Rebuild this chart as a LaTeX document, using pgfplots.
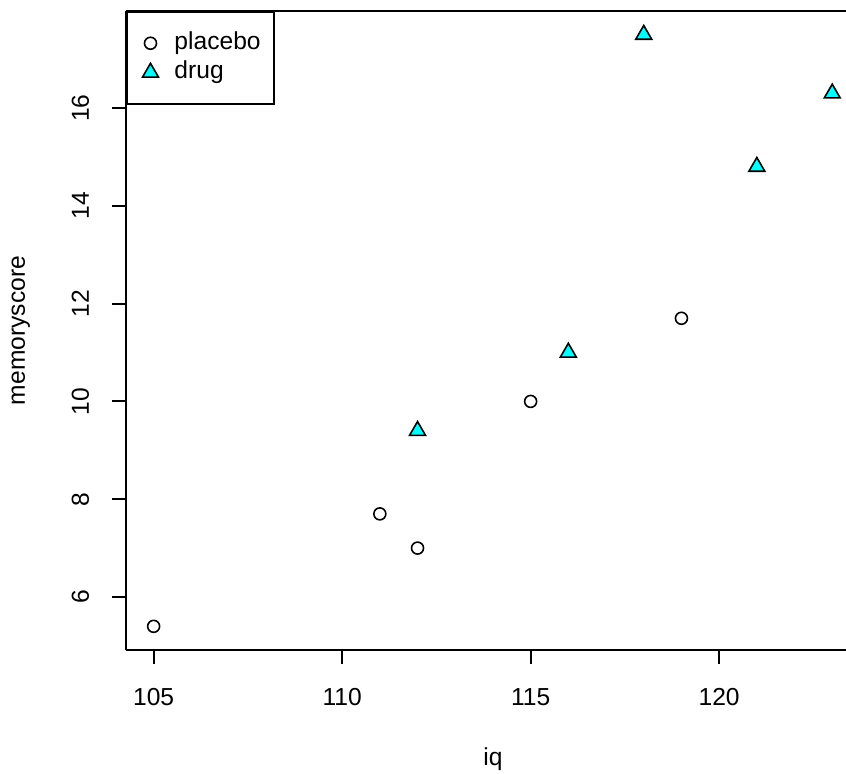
\documentclass[border=0pt]{standalone}
\usepackage{fontspec}
\setmainfont{Liberation Sans}
\usepackage{pgfplots}
\pgfplotsset{compat=1.18}
\definecolor{rcyan}{RGB}{0,255,255}
\begin{document}
\begin{tikzpicture}[font=\fontsize{12.3}{14.4}\selectfont]
\begin{axis}[
  at={(0pt,0pt)}, anchor=south west,
  scale only axis, width=359.75pt, height=319.5pt,
  xmin=104.28, xmax=123.365, ymin=4.916, ymax=17.984,
  axis lines*=left,
  axis line style={line width=1pt, black},
  xtick={105,110,115,120}, ytick={6,8,10,12,14,16},
  tick align=outside, major tick length=7.2pt,
  tick style={line width=1pt, black},
  /pgf/number format/assume math mode=true,
  xticklabel style={anchor=base, inner sep=0pt},
  xticklabel shift=20.3pt,
  yticklabel style={rotate=90, anchor=base, inner sep=0pt},
  yticklabel shift=11.65pt,
  xlabel={iq}, ylabel={memoryscore},
  xlabel style={at={(axis description cs:0.5094,-0.1815)}, anchor=base, inner sep=0pt},
  ylabel style={at={(axis description cs:-0.1411,0.5)}, anchor=base, inner sep=0pt},
  legend style={at={(0,1)}, anchor=north west, draw=black, line width=1pt,
    inner xsep=0pt, inner ysep=8.3pt, row sep=0pt, column sep=0pt,
    nodes={inner sep=0pt, text height=10.4pt, text depth=4.25pt, text width=49.5pt}},
  legend cell align=left,
  legend image code/.code={\path (-11pt,-5pt) (11.5pt,5pt); \draw[#1] plot coordinates {(0pt,0pt)};},
  clip=false,
]
\addplot[only marks, mark=o, mark size=3pt, mark options={line width=0.8pt, draw=black}] coordinates {
  (105,5.4) (111,7.7) (112,7.0) (115,10.0) (119,11.7)
};
\addlegendentry{placebo}
\addplot[only marks, mark=triangle*, mark size=4.6pt, mark options={line width=0.8pt, draw=black, fill=rcyan}] coordinates {
  (112,9.4) (116,11.0) (118,17.5) (121,14.8) (123,16.3)
};
\addlegendentry{drug}
\draw[line width=1pt, black] (rel axis cs:0,1) -- (rel axis cs:1,1);
\end{axis}
\pgfresetboundingbox
\path[use as bounding box] (-63.25pt,-61.5pt) rectangle (359.75pt,325pt);
\end{tikzpicture}
\end{document}
